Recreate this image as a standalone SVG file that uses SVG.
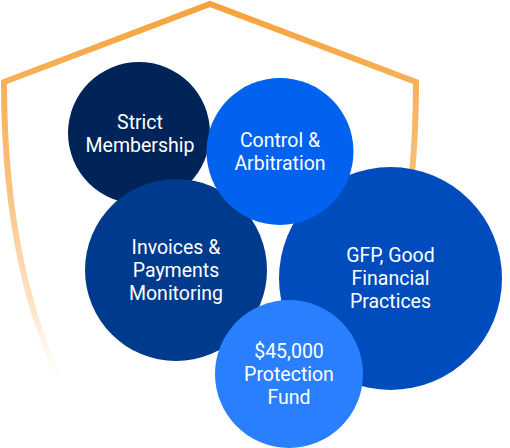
<svg xmlns="http://www.w3.org/2000/svg" width="510" height="448" viewBox="0 0 510 448">
<style>
.lbl{font-family:Roboto,"Liberation Sans",sans-serif;font-size:19.5px;fill:#fff;text-anchor:middle}
</style>
<defs>
<linearGradient id="shieldGrad" gradientUnits="userSpaceOnUse" x1="0" y1="0" x2="0" y2="400">
<stop offset="0" stop-color="#F6A23A"/>
<stop offset="0.45" stop-color="#F9C07C"/>
<stop offset="0.75" stop-color="#FCD9B0" stop-opacity="0.8"/>
<stop offset="0.96" stop-color="#FFF1E2" stop-opacity="0"/>
</linearGradient>
</defs>
<g id="shield">
<path d="M75,410 C30,330 4,220 4,82 L210,4 L416,82 C416,220 390,330 345,410" fill="none" stroke="url(#shieldGrad)" stroke-width="6" stroke-linejoin="miter"/>
</g>
<g id="strict-membership">
<circle cx="139" cy="133" r="71" fill="#002458"/>
<text class="lbl" x="140" y="129">Strict</text>
<text class="lbl" x="140" y="152">Membership</text>
</g>
<g id="invoices">
<circle cx="176" cy="270" r="91" fill="#003A8C"/>
<text class="lbl" x="176" y="254">Invoices &amp;</text>
<text class="lbl" x="176" y="277">Payments</text>
<text class="lbl" x="176" y="300">Monitoring</text>
</g>
<g id="gfp">
<circle cx="390.5" cy="278.5" r="111.5" fill="#004CBC"/>
<text class="lbl" x="390.5" y="262">GFP, Good</text>
<text class="lbl" x="390.5" y="285">Financial</text>
<text class="lbl" x="390.5" y="308">Practices</text>
</g>
<g id="control-arbitration">
<circle cx="280" cy="151.5" r="73.5" fill="#0062EE"/>
<text class="lbl" x="280" y="147">Control &amp;</text>
<text class="lbl" x="280" y="170">Arbitration</text>
</g>
<g id="protection-fund">
<circle cx="289" cy="374" r="74" fill="#2A7FFF"/>
<text class="lbl" x="289" y="358">$45,000</text>
<text class="lbl" x="289" y="381">Protection</text>
<text class="lbl" x="289" y="404">Fund</text>
</g>
<g id="connectors"/>
</svg>
